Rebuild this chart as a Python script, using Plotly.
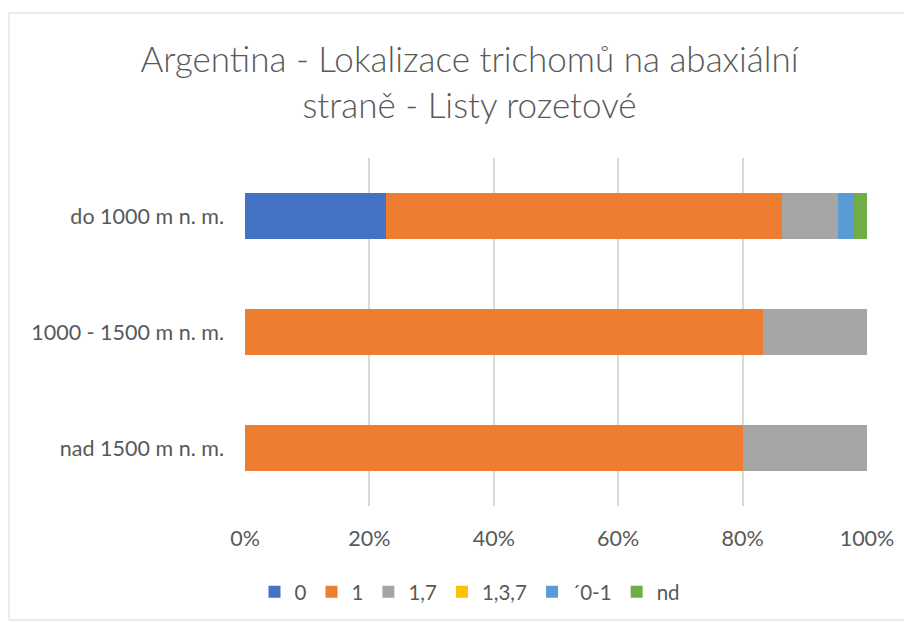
import plotly.graph_objects as go

categories = ["do 1000 m n. m.", "1000 - 1500 m n. m.", "nad 1500 m n. m."]
series_names = ["0", "1", "1,7", "1,3,7", "´0-1", "nd"]
values = {
    "0":     [22.7, 0.0, 0.0],
    "1":     [63.6, 83.3, 80.0],
    "1,7":   [9.1, 16.7, 20.0],
    "1,3,7": [0.0, 0.0, 0.0],
    "´0-1":  [2.3, 0.0, 0.0],
    "nd":    [2.3, 0.0, 0.0],
}
colors = ["#4472C4", "#ED7D31", "#A5A5A5", "#FFC000", "#5B9BD5", "#70AD47"]
x_ticks = [0, 20, 40, 60, 80, 100]
x_labels = ["0%", "20%", "40%", "60%", "80%", "100%"]

fig = go.Figure()
for name, col in zip(series_names, colors):
    fig.add_trace(go.Bar(
        y=categories, x=values[name], name=name, orientation="h",
        marker=dict(color=col, line=dict(width=0)),
    ))

W, H = 912, 623
L, R, T, B = 237, 53, 150, 125
pw, ph = W - L - R, H - T - B

def px2paper_x(px):
    return (px - L) / pw

def px2paper_y(py):
    return (H - B - py) / ph

fig.update_layout(
    width=W, height=H,
    barmode="stack", bargap=0.6,
    margin=dict(l=L, r=R, t=T, b=B),
    plot_bgcolor="white", paper_bgcolor="white",
    font=dict(family="Lato, sans-serif", color="#595959", size=21),
    title=dict(
        text="Argentina - Lokalizace trichomů na abaxiální<br>straně - Listy rozetové",
        x=0.506, xanchor="center", xref="container",
        y=0.897, yanchor="top", yref="container",
        font=dict(size=35, color="#595959", family="Lato, sans-serif", weight=300),
    ),
    xaxis=dict(
        range=[0, 100], tickvals=x_ticks, ticktext=x_labels,
        showgrid=True, gridcolor="#D9D9D9", gridwidth=1.5,
        zeroline=False, showline=False, ticks="",
        ticklabelstandoff=17,
        tickfont=dict(size=21.5, color="#595959"),
    ),
    yaxis=dict(
        categoryorder="array", categoryarray=categories, autorange="reversed",
        showgrid=False, zeroline=False, showline=False, ticks="",
        ticklabelstandoff=20,
        tickfont=dict(size=21.5, color="#595959"),
    ),
    legend=dict(
        orientation="h", x=px2paper_x(462), xanchor="center",
        y=px2paper_y(584), yanchor="middle",
        font=dict(size=20.5, color="#595959"), traceorder="normal",
        itemwidth=30,
    ),
    shapes=[dict(
        type="rect", xref="paper", yref="paper",
        x0=px2paper_x(1), x1=px2paper_x(930),
        y0=px2paper_y(612), y1=px2paper_y(5),
        line=dict(color="#D9D9D9", width=1), fillcolor="rgba(0,0,0,0)", layer="below",
    )],
)

fig.write_html("out.html")
